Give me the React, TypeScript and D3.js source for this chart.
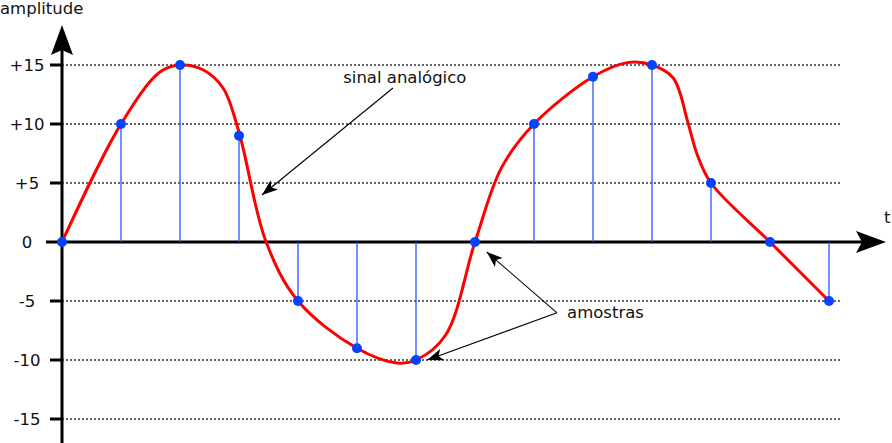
import React from "react";
import * as d3 from "d3";

// sampled values (one per time step)
const sampleT = [0, 1, 2, 3, 4, 5, 6, 7, 8, 9, 10, 11, 12, 13];
const sampleV = [0, 10, 15, 9, -5, -9, -10, 0, 10, 14, 15, 5, 0, -5];

// analog signal
const analogT = [0, 1, 1.66, 2, 2.39, 2.73, 3, 3.46, 4, 5, 5.68, 6, 6.5, 7, 7.45, 8, 9, 9.58, 10, 10.36, 10.61, 10.76, 11, 12, 13];
const analogV = [0, 10, 14.4, 15, 14.6, 13.05, 9.3, 0, -5, -9, -10.25, -10, -7.9, 0, 6.3, 10, 14, 15.2, 15, 13.9, 10.1, 7.5, 5, 0, -5];

const yTicks = [15, 10, 5, 0, -5, -10, -15];
const yTickLabels = ["+15", "+10", "+5", "0", "-5", "-10", "-15"];

const W = 892;
const H = 443;
const FONT = "DejaVu Sans, sans-serif";
const FS = 16.5;

const App: React.FC = () => {
  const x = d3.scaleLinear().domain([0, 13]).range([62, 829]);
  const y = d3.scaleLinear().domain([-15, 15]).range([419, 65]);

  const pts: [number, number][] = analogT.map((t, i) => [t, analogV[i]]);
  const line = d3
    .line<[number, number]>()
    .x((d) => x(d[0]))
    .y((d) => y(d[1]))
    .curve(d3.curveCatmullRom.alpha(0.5));

  const x0 = x(0);
  const y0 = y(0);

  // annotation anchors in data units
  const sinalStart = [5.61, 13.05];
  const sinalTip = [3.39, 3.98];
  const amostrasJoin = [8.39, -6.0];
  const amostrasTips = [
    [7.2, -0.85],
    [6.19, -10.0],
  ];

  return (
    <svg
      width={W}
      height={H}
      style={{ position: "absolute", left: 0, top: 0, background: "#fff" }}
      fontFamily={FONT}
    >
      <defs>
        <marker
          id="ah"
          viewBox="0 0 16 12"
          refX="16"
          refY="6"
          markerWidth="16"
          markerHeight="12"
          markerUnits="userSpaceOnUse"
          orient="auto"
        >
          <path d="M0,0 L16,6 L0,12 L4,6 Z" fill="#000" />
        </marker>
      </defs>

      {/* grid lines */}
      {yTicks
        .filter((v) => v !== 0)
        .map((v) => (
          <line
            key={"g" + v}
            x1={x0}
            x2={840}
            y1={y(v)}
            y2={y(v)}
            stroke="#333"
            strokeWidth={1.3}
            strokeDasharray="2,2"
          />
        ))}

      {/* tick marks + labels */}
      {yTicks.map((v, i) => (
        <g key={"t" + v}>
          {v !== 0 && (
            <line x1={50} x2={x0} y1={y(v)} y2={y(v)} stroke="#000" strokeWidth={3} />
          )}
          <text
            x={27}
            y={y(v) + 6}
            textAnchor="middle"
            fontSize={FS}
            fill="#111"
          >
            {yTickLabels[i]}
          </text>
        </g>
      ))}

      {/* axes */}
      <line x1={x0} x2={x0} y1={50} y2={H} stroke="#000" strokeWidth={3} />
      <path d={`M${x0},25 L${x0 + 11},55 L${x0},50 L${x0 - 11},55 Z`} fill="#000" />
      <line x1={46} x2={862} y1={y0} y2={y0} stroke="#000" strokeWidth={3} />
      <path d={`M886,${y0} L856,${y0 - 11} L862,${y0} L856,${y0 + 11} Z`} fill="#000" />

      {/* stems */}
      {sampleT.map((t, i) => (
        <line
          key={"s" + i}
          x1={x(t)}
          x2={x(t)}
          y1={y0}
          y2={y(sampleV[i])}
          stroke="#2255ff"
          strokeWidth={1.3}
        />
      ))}

      {/* analog signal */}
      <path d={line(pts) || ""} fill="none" stroke="#ff0000" strokeWidth={3} />

      {/* samples */}
      {sampleT.map((t, i) => (
        <circle key={"c" + i} cx={x(t)} cy={y(sampleV[i])} r={5} fill="#0044ff" />
      ))}

      {/* labels */}
      <text x={0} y={14} fontSize={FS} fill="#111">
        amplitude
      </text>
      <text x={884} y={223} fontSize={FS} fill="#111">
        t
      </text>
      <text x={x(5.81)} y={y(13.5)} textAnchor="middle" fontSize={FS} fill="#111">
        sinal analógico
      </text>
      <text x={x(8.56)} y={y(-6.44)} fontSize={FS} fill="#111">
        amostras
      </text>

      {/* annotation arrows */}
      <line
        x1={x(sinalStart[0])}
        y1={y(sinalStart[1])}
        x2={x(sinalTip[0])}
        y2={y(sinalTip[1])}
        stroke="#000"
        strokeWidth={1.1}
        markerEnd="url(#ah)"
      />
      {amostrasTips.map((p, i) => (
        <line
          key={"a" + i}
          x1={x(amostrasJoin[0])}
          y1={y(amostrasJoin[1])}
          x2={x(p[0])}
          y2={y(p[1])}
          stroke="#000"
          strokeWidth={1.1}
          markerEnd="url(#ah)"
        />
      ))}
    </svg>
  );
};

export default App;
